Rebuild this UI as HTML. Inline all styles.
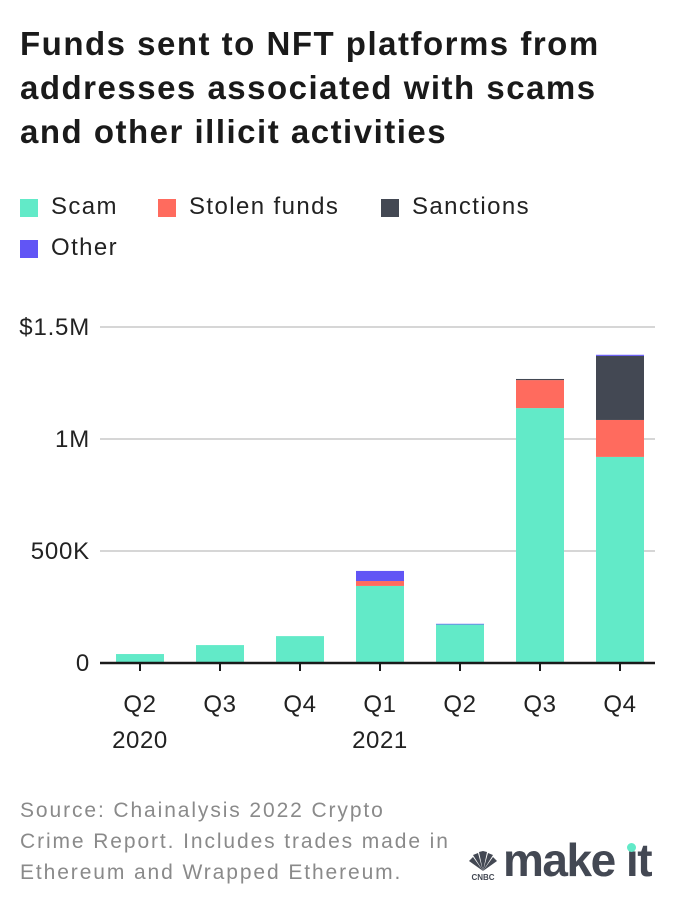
<!DOCTYPE html>
<html><head><meta charset="utf-8"><style>
body{margin:0;width:676px;height:910px;background:#fff;font-family:"Liberation Sans",sans-serif;color:#1a1a1a;position:relative;overflow:hidden}
.t{position:absolute;left:20px;top:22px;font-size:33px;font-weight:bold;line-height:44px;letter-spacing:1.5px;white-space:nowrap}
.leg{position:absolute;font-size:24px;color:#222;letter-spacing:1.4px}
.sw{position:absolute;width:18px;height:18px}
.src{position:absolute;left:20px;top:795px;font-size:21px;line-height:31px;color:#8a8a8a;letter-spacing:1.9px;white-space:nowrap}
</style></head><body>
<div class="t">Funds sent to NFT platforms from<br>addresses associated with scams<br>and other illicit activities</div>
<div>
<div class="sw" style="left:20px;top:199px;background:#62eac8"></div><div class="leg" style="left:51px;top:193px">Scam</div>
<div class="sw" style="left:158px;top:199px;background:#ff6b5e"></div><div class="leg" style="left:189px;top:193px">Stolen funds</div>
<div class="sw" style="left:381px;top:199px;background:#434853"></div><div class="leg" style="left:412px;top:193px">Sanctions</div>
<div class="sw" style="left:20px;top:240px;background:#6155f5"></div><div class="leg" style="left:51px;top:234px">Other</div>
</div>
<svg id="c" width="676" height="910" style="position:absolute;left:0;top:0"></svg>
<div class="src">Source: Chainalysis 2022 Crypto<br>Crime Report. Includes trades made in<br>Ethereum and Wrapped Ethereum.</div>
<div style="position:absolute;left:463px;top:843px;width:200px;height:45px">
<svg width="40" height="40" style="position:absolute;left:0;top:4px"><g fill="#434853"><path d="M20 24 L6 14 L10 10Z"/><path d="M20 24 L10 8 L15 6Z"/><path d="M20 24 L16 5 L20 4Z"/><path d="M20 24 L20 4 L24 5Z"/><path d="M20 24 L25 6 L30 8Z"/><path d="M20 24 L30 10 L34 14Z"/></g><text x="20" y="33" font-size="8" font-weight="bold" text-anchor="middle" fill="#434853" font-family="Liberation Sans">CNBC</text></svg>
<span style="position:absolute;left:40px;top:-10px;font-size:46px;font-weight:bold;color:#434853;letter-spacing:-1.5px">make ı<span style="letter-spacing:-1.5px">t</span></span>
<div style="position:absolute;left:164px;top:0px;width:9px;height:9px;border-radius:50%;background:#62eac8"></div>
</div>
<script>
const categories=["Q2","Q3","Q4","Q1","Q2","Q3","Q4"];
const years=["2020","","","2021","","",""];
const scam=[40,80,120,344,172,1138,920];
const stolen=[0,0,0,22,0,125,165];
const sanctions=[0,0,0,0,0,5,286];
const other=[0,0,0,45,3,0,5];
const ticks=[0,500,1000,1500];
const tickLabels=["0","500K","1M","$1.5M"];
const svg=document.getElementById('c');const NS="http://www.w3.org/2000/svg";
const y0=663,pxPer=112/500;const y=v=>y0-v*pxPer;const x=i=>140+i*80;const bw=48;
function mk(t,a,txt){const e=document.createElementNS(NS,t);for(const k in a)e.setAttribute(k,a[k]);if(txt!=null)e.textContent=txt;svg.appendChild(e);return e;}
ticks.forEach((t,i)=>{
 if(t>0){const g=mk('line',{x1:100,x2:655,y1:y(t),y2:y(t),stroke:'#d6d6d6','stroke-width':2});
 
 }
 const l=mk('text',{x:90,y:y(t)+8,'text-anchor':'end','font-size':24,'letter-spacing':0.8,fill:'#222','font-family':'Liberation Sans'},tickLabels[i]);
 
 
});
const series=[[scam,'#62eac8','scam'],[stolen,'#ff6b5e','stolen'],[sanctions,'#434853','sanctions'],[other,'#6155f5','other']];
categories.forEach((c,i)=>{
 let base=0;
 series.forEach(([arr,col,n])=>{const v=arr[i];if(v>0){const r=mk('rect',{x:x(i)-bw/2,y:y(base+v),width:bw,height:v*pxPer,fill:col});
 
 }base+=v;});
 const tk=mk('line',{x1:x(i),x2:x(i),y1:y0,y2:y0+8,stroke:'#1a1a1a','stroke-width':2});
 
 
 const l=mk('text',{x:x(i),y:712,'text-anchor':'middle','font-size':24,'letter-spacing':0.6,fill:'#222','font-family':'Liberation Sans'},c);
 
 
 if(years[i]){const yl=mk('text',{x:x(i),y:748,'text-anchor':'middle','font-size':24,'letter-spacing':0.6,fill:'#222','font-family':'Liberation Sans'},years[i]);
 
 }
});
const ax=mk('line',{x1:100,x2:655,y1:y0,y2:y0,stroke:'#1a1a1a','stroke-width':2.5});


</script>
</body></html>
